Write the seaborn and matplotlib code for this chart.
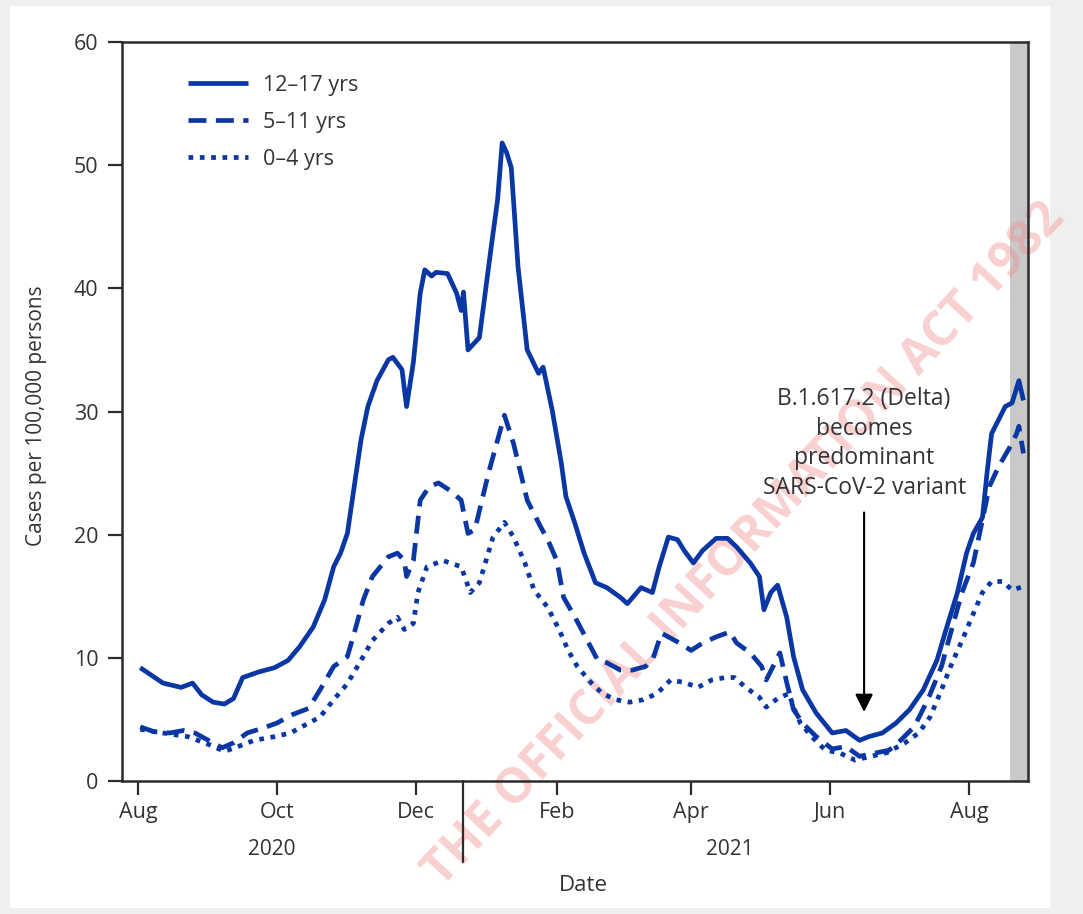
import numpy as np
import pandas as pd
import matplotlib
matplotlib.use("Agg")
import matplotlib.pyplot as plt
import matplotlib.dates as mdates
import matplotlib.transforms as mtransforms
from matplotlib.patches import Rectangle
import seaborn as sns

# ---- data (cases per 100,000) ----
teen_dates = ["2020-08-02", "2020-08-12", "2020-08-20", "2020-08-25", "2020-08-29", "2020-09-03",
              "2020-09-08", "2020-09-12", "2020-09-16", "2020-09-23", "2020-09-30", "2020-10-06",
              "2020-10-11", "2020-10-17", "2020-10-22", "2020-10-26", "2020-10-29", "2020-11-01",
              "2020-11-04", "2020-11-07", "2020-11-10", "2020-11-14", "2020-11-19", "2020-11-21",
              "2020-11-25", "2020-11-27", "2020-11-30", "2020-12-03", "2020-12-05", "2020-12-08",
              "2020-12-10", "2020-12-15", "2020-12-19", "2020-12-21", "2020-12-22", "2020-12-24",
              "2020-12-29", "2021-01-03", "2021-01-06", "2021-01-08", "2021-01-10", "2021-01-12",
              "2021-01-15", "2021-01-19", "2021-01-24", "2021-01-26", "2021-01-30", "2021-02-03",
              "2021-02-05", "2021-02-09", "2021-02-13", "2021-02-18", "2021-02-23", "2021-03-01",
              "2021-03-04", "2021-03-10", "2021-03-15", "2021-03-18", "2021-03-22", "2021-03-26",
              "2021-03-29", "2021-04-02", "2021-04-06", "2021-04-12", "2021-04-17", "2021-04-21",
              "2021-04-27", "2021-05-01", "2021-05-03", "2021-05-06", "2021-05-09", "2021-05-13",
              "2021-05-16", "2021-05-20", "2021-05-26", "2021-06-02", "2021-06-08", "2021-06-14",
              "2021-06-18", "2021-06-24", "2021-06-30", "2021-07-06", "2021-07-12", "2021-07-18",
              "2021-07-22", "2021-07-27", "2021-07-31", "2021-08-03", "2021-08-07", "2021-08-09",
              "2021-08-11", "2021-08-14", "2021-08-17", "2021-08-20", "2021-08-23", "2021-08-25"]
teen_vals = [9.2, 7.95, 7.6, 7.95, 7.0, 6.4,
             6.25, 6.7, 8.4, 8.85, 9.2, 9.8,
             10.9, 12.5, 14.7, 17.4, 18.5, 20.1,
             23.9, 27.7, 30.4, 32.5, 34.2, 34.4,
             33.4, 30.4, 34.0, 39.6, 41.5, 41.0,
             41.3, 41.2, 39.6, 38.2, 39.7, 35.0,
             36.0, 43.1, 47.2, 51.8, 51.0, 49.8,
             41.7, 35.0, 33.1, 33.6, 30.1, 25.8,
             23.1, 20.9, 18.5, 16.1, 15.7, 14.9,
             14.4, 15.7, 15.3, 17.4, 19.8, 19.6,
             18.7, 17.7, 18.7, 19.7, 19.7, 19.0,
             17.7, 16.6, 13.9, 15.3, 15.9, 13.3,
             10.1, 7.4, 5.5, 3.9, 4.1, 3.3,
             3.6, 3.9, 4.7, 5.8, 7.4, 9.8,
             12.3, 15.3, 18.5, 20.1, 21.4, 25.0,
             28.2, 29.3, 30.4, 30.7, 32.5, 30.9]

child_dates = ["2020-08-02", "2020-08-08", "2020-08-15", "2020-08-21", "2020-08-26", "2020-09-01",
               "2020-09-07", "2020-09-12", "2020-09-18", "2020-09-25", "2020-10-01", "2020-10-08",
               "2020-10-15", "2020-10-20", "2020-10-26", "2020-11-01", "2020-11-04", "2020-11-08",
               "2020-11-12", "2020-11-19", "2020-11-23", "2020-11-26", "2020-11-27", "2020-11-30",
               "2020-12-03", "2020-12-07", "2020-12-11", "2020-12-16", "2020-12-21", "2020-12-24",
               "2020-12-27", "2021-01-02", "2021-01-09", "2021-01-13", "2021-01-19", "2021-01-25",
               "2021-01-28", "2021-02-01", "2021-02-04", "2021-02-09", "2021-02-15", "2021-02-19",
               "2021-02-23", "2021-03-01", "2021-03-06", "2021-03-12", "2021-03-15", "2021-03-19",
               "2021-03-22", "2021-03-27", "2021-04-01", "2021-04-06", "2021-04-12", "2021-04-18",
               "2021-04-21", "2021-04-27", "2021-05-02", "2021-05-04", "2021-05-07", "2021-05-10",
               "2021-05-13", "2021-05-16", "2021-05-20", "2021-05-26", "2021-06-02", "2021-06-08",
               "2021-06-14", "2021-06-19", "2021-06-27", "2021-07-02", "2021-07-08", "2021-07-14",
               "2021-07-20", "2021-07-24", "2021-07-29", "2021-08-03", "2021-08-07", "2021-08-10",
               "2021-08-14", "2021-08-19", "2021-08-22", "2021-08-23", "2021-08-25"]
child_vals = [4.4, 4.0, 3.9, 4.1, 3.9, 3.3,
              2.7, 3.1, 3.9, 4.3, 4.7, 5.4,
              5.9, 7.4, 9.3, 10.1, 12.0, 14.7,
              16.6, 18.2, 18.5, 17.9, 16.6, 17.9,
              22.8, 23.9, 24.2, 23.6, 22.8, 20.1,
              20.4, 25.0, 29.7, 27.4, 22.8, 20.6,
              19.6, 17.9, 14.9, 13.3, 11.2, 9.8,
              9.6, 9.0, 9.0, 9.3, 9.8, 12.0,
              11.7, 11.2, 10.6, 11.2, 11.7, 12.1,
              11.2, 10.4, 9.3, 8.2, 9.3, 10.4,
              8.0, 5.8, 4.7, 3.6, 2.6, 2.8,
              2.0, 2.2, 2.5, 3.3, 4.4, 6.6,
              9.3, 12.0, 15.3, 17.7, 21.2, 23.9,
              25.5, 27.1, 28.2, 28.8, 26.6]

tot_dates = ["2020-08-02", "2020-08-12", "2020-08-23", "2020-09-02", "2020-09-08", "2020-09-14",
             "2020-09-21", "2020-09-30", "2020-10-07", "2020-10-15", "2020-10-20", "2020-10-26",
             "2020-11-01", "2020-11-07", "2020-11-12", "2020-11-19", "2020-11-23", "2020-11-26",
             "2020-11-30", "2020-12-02", "2020-12-06", "2020-12-13", "2020-12-21", "2020-12-25",
             "2020-12-29", "2021-01-04", "2021-01-09", "2021-01-13", "2021-01-18", "2021-01-22",
             "2021-01-28", "2021-02-02", "2021-02-06", "2021-02-10", "2021-02-16", "2021-02-21",
             "2021-02-27", "2021-03-05", "2021-03-11", "2021-03-17", "2021-03-23", "2021-03-29",
             "2021-04-04", "2021-04-10", "2021-04-16", "2021-04-20", "2021-04-25", "2021-05-01",
             "2021-05-04", "2021-05-09", "2021-05-14", "2021-05-16", "2021-05-19", "2021-05-24",
             "2021-05-30", "2021-06-05", "2021-06-12", "2021-06-19", "2021-06-26", "2021-07-04",
             "2021-07-10", "2021-07-15", "2021-07-20", "2021-07-24", "2021-07-29", "2021-08-03",
             "2021-08-07", "2021-08-11", "2021-08-16", "2021-08-20", "2021-08-25"]
tot_vals = [4.2, 3.9, 3.6, 2.9, 2.4, 2.8,
            3.3, 3.6, 3.9, 4.7, 5.2, 6.6,
            7.9, 9.8, 11.4, 12.8, 13.3, 12.3,
            12.8, 15.3, 17.4, 17.9, 17.4, 15.3,
            16.1, 19.8, 21.0, 19.8, 17.7, 15.5,
            14.1, 12.3, 10.6, 9.3, 8.0, 7.1,
            6.6, 6.4, 6.6, 7.1, 8.2, 8.0,
            7.6, 8.2, 8.4, 8.4, 7.6, 6.8,
            6.0, 6.7, 7.1, 6.0, 4.7, 3.6,
            2.5, 2.3, 1.7, 2.0, 2.3, 3.1,
            3.9, 5.2, 7.4, 9.3, 11.4, 13.6,
            15.3, 16.2, 16.2, 15.5, 15.8]

series_labels = ["12\u201317 yrs", "5\u201311 yrs", "0\u20134 yrs"]
month_ticks = ["2020-08-01", "2020-10-01", "2020-12-01", "2021-02-01",
               "2021-04-01", "2021-06-01", "2021-08-01"]
month_labels = ["Aug", "Oct", "Dec", "Feb", "Apr", "Jun", "Aug"]
y_ticks = [0, 10, 20, 30, 40, 50, 60]

delta_date = "2021-06-16"
delta_text = "B.1.617.2 (Delta)\nbecomes\npredominant\nSARS-CoV-2 variant"
shade_start, shade_end = "2021-08-19", "2021-08-27"

teen = pd.DataFrame({"date": pd.to_datetime(teen_dates), "cases": teen_vals})
child = pd.DataFrame({"date": pd.to_datetime(child_dates), "cases": child_vals})
tot = pd.DataFrame({"date": pd.to_datetime(tot_dates), "cases": tot_vals})

sns.set_theme(style="white")
plt.rcParams["font.family"] = ["Open Sans", "DejaVu Sans"]

blue = "#0a37a3"
ink = "#2b2b2b"
grey_txt = "#333333"

fig = plt.figure(figsize=(10.83, 9.14), dpi=100, facecolor="#efefef")
# white card behind the chart
fig.patches.append(Rectangle((10 / 1083, 1 - 908 / 914), 1040 / 1083, 902 / 914,
                             transform=fig.transFigure, facecolor="white",
                             edgecolor="none", zorder=-10))
ax = fig.add_axes([122 / 1083, 1 - 781 / 914, 906 / 1083, 739 / 914])
ax.set_facecolor("white")
ax.set_zorder(1)

sns.lineplot(data=teen, x="date", y="cases", ax=ax, color=blue, lw=3.4,
             label=series_labels[0], solid_capstyle="butt")
sns.lineplot(data=child, x="date", y="cases", ax=ax, color=blue, lw=3.4,
             linestyle=(0, (3.8, 2.0)), label=series_labels[1])
sns.lineplot(data=tot, x="date", y="cases", ax=ax, color=blue, lw=3.4,
             linestyle=(0, (1.0, 1.4)), label=series_labels[2])

ax.axvspan(pd.Timestamp(shade_start), pd.Timestamp(shade_end), color="#c9c9c9",
           lw=0, zorder=0.5)

ax.set_xlim(pd.Timestamp("2020-07-25"), pd.Timestamp("2021-08-27"))
ax.set_ylim(0, 60)
ax.set_yticks(y_ticks)
ax.set_xticks(pd.to_datetime(month_ticks))
ax.set_xticklabels(month_labels)

for s in ax.spines.values():
    s.set_visible(True)
    s.set_color(ink)
    s.set_linewidth(1.8)
ax.tick_params(axis="both", which="major", length=10, width=1.6, color=ink,
               labelsize=15.5, labelcolor=grey_txt, direction="out")
ax.tick_params(axis="x", pad=5, bottom=True)
ax.tick_params(axis="y", pad=7, left=True)

ax.set_ylabel("Cases per 100,000 persons", fontsize=15, color=grey_txt)
ax.yaxis.set_label_coords(-0.083, 0.495)
ax.set_xlabel("Date", fontsize=16, color=grey_txt)
ax.xaxis.set_label_coords(0.509, -0.127)

# year labels and the year separator below the axis
trans = mtransforms.blended_transform_factory(ax.transData, ax.transAxes)
ax.text(pd.Timestamp("2020-09-29"), -0.093, "2020", transform=trans, ha="center",
        va="center", fontsize=15, color=grey_txt)
ax.text(pd.Timestamp("2021-04-18"), -0.093, "2021", transform=trans, ha="center",
        va="center", fontsize=15, color=grey_txt)
sep = pd.Timestamp("2020-12-22")
ax.plot([sep, sep], [0, -0.11], transform=trans, color=ink, lw=1.6, clip_on=False)

# Delta annotation
ax.annotate("", xy=(pd.Timestamp(delta_date), 5.6), xytext=(pd.Timestamp(delta_date), 21.8),
            arrowprops=dict(arrowstyle="-|>", color="black", lw=1.5, mutation_scale=27,
                            shrinkA=0, shrinkB=0))
ax.text(pd.Timestamp(delta_date), 27.4, delta_text, ha="center", va="center",
        fontsize=16.5, color=grey_txt, linespacing=1.3)

leg = ax.legend(loc="upper left", bbox_to_anchor=(0.073, 0.956), frameon=False,
                fontsize=15.5, handlelength=2.8, handletextpad=0.7, labelspacing=0.75,
                borderpad=0, borderaxespad=0)
for t in leg.get_texts():
    t.set_color(grey_txt)

# faint watermark across the figure
ax.text(745 / 1083, 1 - 545 / 914, "THE OFFICIAL INFORMATION ACT 1982",
        transform=fig.transFigure, rotation=47, ha="center", va="center",
        fontsize=35, fontweight="bold", color="#f08a8a", alpha=0.4,
        zorder=1.5, clip_on=False)

fig.savefig("out.png", dpi=100, facecolor=fig.get_facecolor())
